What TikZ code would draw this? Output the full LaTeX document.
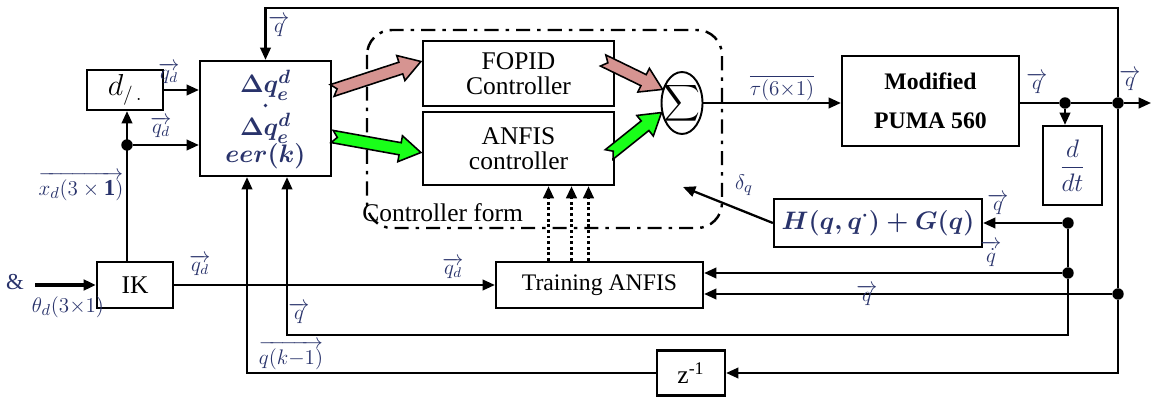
\documentclass[tikz,border=0pt]{standalone}
\usepackage{amsmath}
\usepackage{graphicx}
\usepackage{fontspec}
\setmainfont{Liberation Serif}
\usetikzlibrary{arrows.meta,calc,shapes.geometric}

\definecolor{lblblue}{rgb}{0.16,0.2,0.42}
\definecolor{fatpink}{rgb}{0.84,0.58,0.57}
\definecolor{fatgreen}{rgb}{0.1,1,0.1}

\tikzset{
  blk/.style={draw, line width=1.3pt, fill=white, align=center, inner sep=2pt,
    font=\fontsize{14.5}{14.5}\selectfont},
  sig/.style={line width=1.3pt, -{Triangle[length=7pt,width=6pt]}},
  wire/.style={line width=1.3pt},
  jdot/.style={circle, fill, inner sep=0pt, minimum size=6.5pt},
  lbl/.style={text=lblblue, inner sep=1pt, font=\fontsize{12}{12}\selectfont},
  dqtxt/.style={text=lblblue, inner sep=0pt, font=\fontsize{15}{15}\selectfont\boldmath},
}

% wide block arrow with notched tail: from, to, fill
\newcommand{\fatarrow}[3]{%
  \draw[line width=0.9pt, line join=miter, fill=#3]
    let \p1=($(#2)-(#1)$), \n1={atan2(\y1,\x1)}, \n2={veclen(\x1,\y1)} in
    ($(#1)+(\n1+90:3.5pt)$) -- ++(\n1:{\n2-12pt}) -- ++(\n1+90:4pt) -- (#2)
    -- ($(#2)+(\n1+180:12pt)+(\n1-90:7.5pt)$) -- ++(\n1+90:4pt)
    -- ++(\n1+180:{\n2-12pt}) -- ($(#1)+(\n1:3pt)$) -- cycle;}

\begin{document}
\begin{tikzpicture}[x=0.02cm, y=-0.02cm]
    \useasboundingbox (0,0) rectangle (1151,398);

    % controller form frame
    \draw[line width=1.4pt, dash pattern=on 8pt off 4pt on 2pt off 4pt,
      rounded corners=0.5cm] (367,30) rectangle (722,228);
    \node[anchor=west, inner sep=0pt, font=\fontsize{14.5}{14.5}\selectfont]
      (cform) at (362,213) {Controller form};

    % blocks
    \node[blk, minimum width=2.62cm, minimum height=2.3cm] (dq) at (265.5,118.5) {};
    \node[dqtxt] (dqa) at ($(dq.center)+(0,-33)$) {$\Delta q_e^d$};
    \node[circle, fill=lblblue, inner sep=0pt, minimum size=2.2pt] (dqb)
      at ($(dq.center)+(0,-13)$) {};
    \node[dqtxt] (dqc) at ($(dq.center)+(0,10)$) {$\Delta q_e^d$};
    \node[dqtxt] (dqd) at ($(dq.center)+(0,38)$) {$eer(k)$};

    \node[blk, minimum width=1.52cm, minimum height=0.8cm,
      font=\fontsize{16}{16}\selectfont] (dbox) at (125,90) {$d_{/\,.}$};
    \node[blk, minimum width=1.52cm, minimum height=0.92cm] (ik) at (135,285) {IK};
    \node[blk, minimum width=3.82cm, minimum height=1.3cm] (fopid) at (518.5,73.5)
      {FOPID\\Controller};
    \node[blk, minimum width=3.82cm, minimum height=1.46cm] (anfis) at (518.5,148.5)
      {ANFIS\\controller};
    \node[draw, ellipse, line width=1.1pt, fill=white, inner sep=0pt,
      minimum width=0.82cm, minimum height=1.24cm] (sum) at (682,103) {};
    \node[inner sep=0pt] (sumsym) at (sum.center) {\scalebox{1.45}{$\displaystyle\sum$}};
    \node[blk, minimum width=4.14cm, minimum height=0.92cm,
      font=\fontsize{13.5}{13.5}\selectfont] (train) at (599.5,285) {Training ANFIS};
    \node[blk, minimum width=3.54cm, minimum height=1.8cm,
      font=\fontsize{13.5}{22}\selectfont\bfseries] (puma) at (930.5,101)
      {Modified\\PUMA 560};
    \node[blk, minimum width=1.18cm, minimum height=1.58cm, text=lblblue,
      font=\fontsize{14}{14}\selectfont] (ddt) at (1072.5,165.5) {$\dfrac{d}{dt}$};
    \node[blk, minimum width=4.16cm, minimum height=0.96cm, text=lblblue,
      font=\fontsize{15}{15}\selectfont\boldmath] (hg) at (878,223)
      {$H(q,q^{\cdot})+G(q)$};
    \node[blk, minimum width=1.36cm, minimum height=0.9cm] (zinv) at (691,373)
      {z\textsuperscript{-1}};

    % junctions and free ends
    \node[jdot] (jd) at (127,145) {};
    \node[jdot] (jp) at (1065,103) {};
    \node[jdot] (jr) at (1118,103) {};
    \node[jdot] (jh) at (1068,223) {};
    \node[jdot] (jt) at (1068,273) {};
    \node[jdot] (jq) at (1118,294) {};
    \coordinate (ttop) at (1118,8);
    \coordinate (qbot) at (1068,335);
    \coordinate (qout) at (1151,103);
    \coordinate (thin) at (35,285);
    \coordinate (dtip) at (683,187);
    \coordinate (dqin1) at ($(dq.south)+(-18.5,0)$);
    \coordinate (dqin2) at ($(dq.south)+(21.5,0)$);

    % connectors
    \draw[sig, line width=2.6pt] (thin) -- (ik.west);
    \draw[sig] (ik.north -| jd) -- (dbox.south -| jd);
    \draw[sig] (jd) -- (dq.west |- jd);
    \draw[sig] (dbox.east) -- (dq.west |- dbox.east);
    \draw[sig] (ik.east) -- (train.west);
    \draw[sig] (jr) -- (ttop) -| (dq.north);
    \draw[sig] (sum.east) -- (puma.west |- sum.east);
    \draw[wire] (puma.east |- sum.east) -- (jp) -- (jr);
    \draw[sig] (jr) -- (qout);
    \draw[sig] (jp) -- (ddt.north -| jp);
    \draw[wire] (jr) -- (jq);
    \draw[sig] (jq) |- (zinv.east);
    \draw[sig] (jq) -- (train.east |- jq);
    \draw[sig] (jh) -- (hg.east);
    \draw[wire] (jh) -- (jt);
    \draw[sig] (jt) -- (train.east |- jt);
    \draw[sig] (jt) -- (qbot) -| (dqin2);
    \draw[sig] (zinv.west) -| (dqin1);
    \draw[sig] (hg.west) -- (dtip);

    % training links
    \foreach \dx in {-51,-28,-11} {
      \coordinate (tp) at ($(train.north)+(\dx,0)$);
      \draw[sig, line width=1.6pt, dash pattern=on 1.6pt off 1.6pt] (tp) -- (tp |- anfis.south);
    }

    % wide arrows
    \coordinate (pk1a) at ($(dq.east)+(0,-28)$);
    \coordinate (pk1b) at ($(fopid.west)+(-1,-12)$);
    \coordinate (gr1a) at ($(dq.east)+(0,18)$);
    \coordinate (gr1b) at ($(anfis.west)+(-1,4)$);
    \coordinate (pk2a) at ($(fopid.east)+(-12,-13)$);
    \coordinate (gr2a) at ($(anfis.east)+(-6,6)$);
    \fatarrow{pk1a}{pk1b}{fatpink}
    \fatarrow{gr1a}{gr1b}{fatgreen}
    \fatarrow{pk2a}{sum.145}{fatpink}
    \fatarrow{gr2a}{sum.205}{fatgreen}

    % signal labels
    \node[lbl] (lqtop) at (279,26) {$\overrightarrow{q}$};
    \node[lbl] (lqd1) at (169,73) {$\overrightarrow{q_d}$};
    \node[lbl] (lqd2) at (161,127) {$\overrightarrow{q_d}$};
    \node[lbl, font=\fontsize{13}{13}\selectfont] (lxd) at (81,186)
      {$\overrightarrow{x_d(3\times\mathbf{1})}$};
    \node[lbl, font=\fontsize{13}{13}\selectfont] (lamp) at (15,282) {\&};
    \node[lbl, font=\fontsize{13}{13}\selectfont] (lth) at (68,307) {$\theta_d(3{\times}1)$};
    \node[lbl] (lqd3) at (200,265) {$\overrightarrow{q_d}$};
    \node[lbl] (lqd4) at (453,268) {$\overrightarrow{q_d}$};
    \node[lbl] (lqb) at (299,313) {$\overrightarrow{q}$};
    \node[lbl] (lqk) at (291,355) {$\overrightarrow{q(k{-}1)}$};
    \node[lbl] (ltau) at (782,88) {$\overline{\tau(6{\times}1)}$};
    \node[lbl] (lqp) at (1037,83) {$\overrightarrow{q}$};
    \node[lbl] (lqr) at (1130,80) {$\overrightarrow{q}$};
    \node[lbl] (lqh) at (998,204) {$\overrightarrow{q}$};
    \node[lbl] (lqdot) at (991,254) {$\overrightarrow{\dot q}$};
    \node[lbl] (lqm) at (867,295) {$\overrightarrow{q}$};
    \node[lbl, font=\fontsize{13}{13}\selectfont] (ldelta) at (744,185) {$\delta_q$};
\end{tikzpicture}
\end{document}
